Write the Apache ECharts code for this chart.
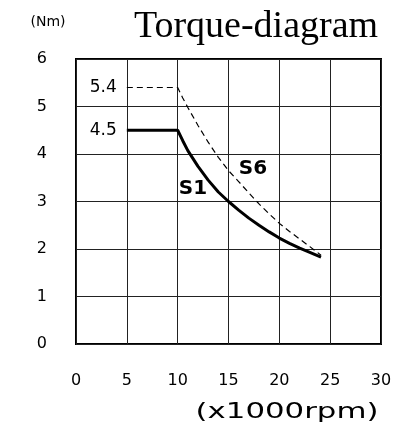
<!DOCTYPE html>
<html>
<head>
<meta charset="utf-8">
<script src="https://cdn.jsdelivr.net/npm/echarts@6/dist/echarts.min.js"></script>
<style>
html,body{margin:0;padding:0;background:#fff;}
#chart{width:401px;height:430px;}
</style>
</head>
<body>
<div id="chart"></div>
<script>
const xTicks = [0, 5, 10, 15, 20, 25, 30];
const yTicks = [0, 1, 2, 3, 4, 5, 6];
const s1X = [5, 10, 10.5, 11, 12, 13, 14, 15, 16, 17, 18, 19, 20, 21, 22, 23, 24.1];
const s1Y = [4.5, 4.5, 4.28, 4.07, 3.74, 3.45, 3.2, 3.0, 2.82, 2.65, 2.5, 2.36, 2.23, 2.12, 2.02, 1.93, 1.83];
const s6X = [5, 10, 10.5, 11, 12, 13, 14, 15, 16, 17, 18, 19, 20, 21, 22, 23, 24.1];
const s6Y = [5.4, 5.4, 5.18, 4.98, 4.6, 4.25, 3.93, 3.65, 3.42, 3.18, 2.95, 2.74, 2.54, 2.37, 2.21, 2.05, 1.87];
const seriesNames = ['S1', 'S6'];
const seriesLabelPos = [[11.5, 3.26], [17.4, 3.69]];

const chart = echarts.init(document.getElementById('chart'), null, {renderer: 'canvas'});
const font = 'DejaVu Sans';

function pairs(xs, ys) { return xs.map((x, i) => [x, ys[i]]); }

function marks(name, pos, xs, ys) {
  return {
    symbol: 'circle', symbolSize: 0, silent: true,
    data: [
      {coord: pos, value: name, label: {show: true, formatter: name, fontFamily: font, fontWeight: 'bold', fontSize: 20, color: '#000'}},
      {coord: [xs[0], ys[0]], value: ys[0], label: {show: true, position: 'left', distance: 10, formatter: String(ys[0]), fontFamily: font, fontSize: 17, color: '#000'}}
    ]
  };
}

const option = {
  animation: false,
  backgroundColor: '#fff',
  grid: {left: 76, right: 20, top: 59, bottom: 86, show: true, borderColor: '#000', borderWidth: 2, backgroundColor: 'transparent'},
  xAxis: {
    type: 'value', min: xTicks[0], max: xTicks[xTicks.length - 1], interval: 5,
    axisLine: {show: false}, axisTick: {show: false},
    splitLine: {show: true, lineStyle: {color: '#222', width: 1}},
    axisLabel: {margin: 29, fontFamily: font, fontSize: 16, color: '#000'}
  },
  yAxis: {
    type: 'value', min: yTicks[0], max: yTicks[yTicks.length - 1], interval: 1,
    axisLine: {show: false}, axisTick: {show: false},
    splitLine: {show: true, lineStyle: {color: '#222', width: 1}},
    axisLabel: {margin: 29, fontFamily: font, fontSize: 16, color: '#000'}
  },
  series: [
    {
      name: seriesNames[1], type: 'line', data: pairs(s6X, s6Y), symbol: 'none', smooth: false,
      lineStyle: {color: '#000', width: 1.2, type: [6, 4]},
      markPoint: marks(seriesNames[1], seriesLabelPos[1], s6X, s6Y)
    },
    {
      name: seriesNames[0], type: 'line', data: pairs(s1X, s1Y), symbol: 'none', smooth: false,
      lineStyle: {color: '#000', width: 3},
      markPoint: marks(seriesNames[0], seriesLabelPos[0], s1X, s1Y)
    }
  ],
  graphic: [
    {type: 'text', x: 256, y: 27, style: {text: 'Torque-diagram', font: '38px "Liberation Serif"', fill: '#000', textAlign: 'center', textVerticalAlign: 'middle'}},
    {type: 'text', x: 48, y: 22, style: {text: '(Nm)', font: '14px "DejaVu Sans"', fill: '#000', textAlign: 'center', textVerticalAlign: 'middle'}},
    {type: 'text', x: 287, y: 412, scaleX: 1.4, style: {text: '(x1000rpm)', font: '22px "DejaVu Sans"', fill: '#000', textAlign: 'center', textVerticalAlign: 'middle'}}
  ]
};
chart.setOption(option);
</script>
</body>
</html>
